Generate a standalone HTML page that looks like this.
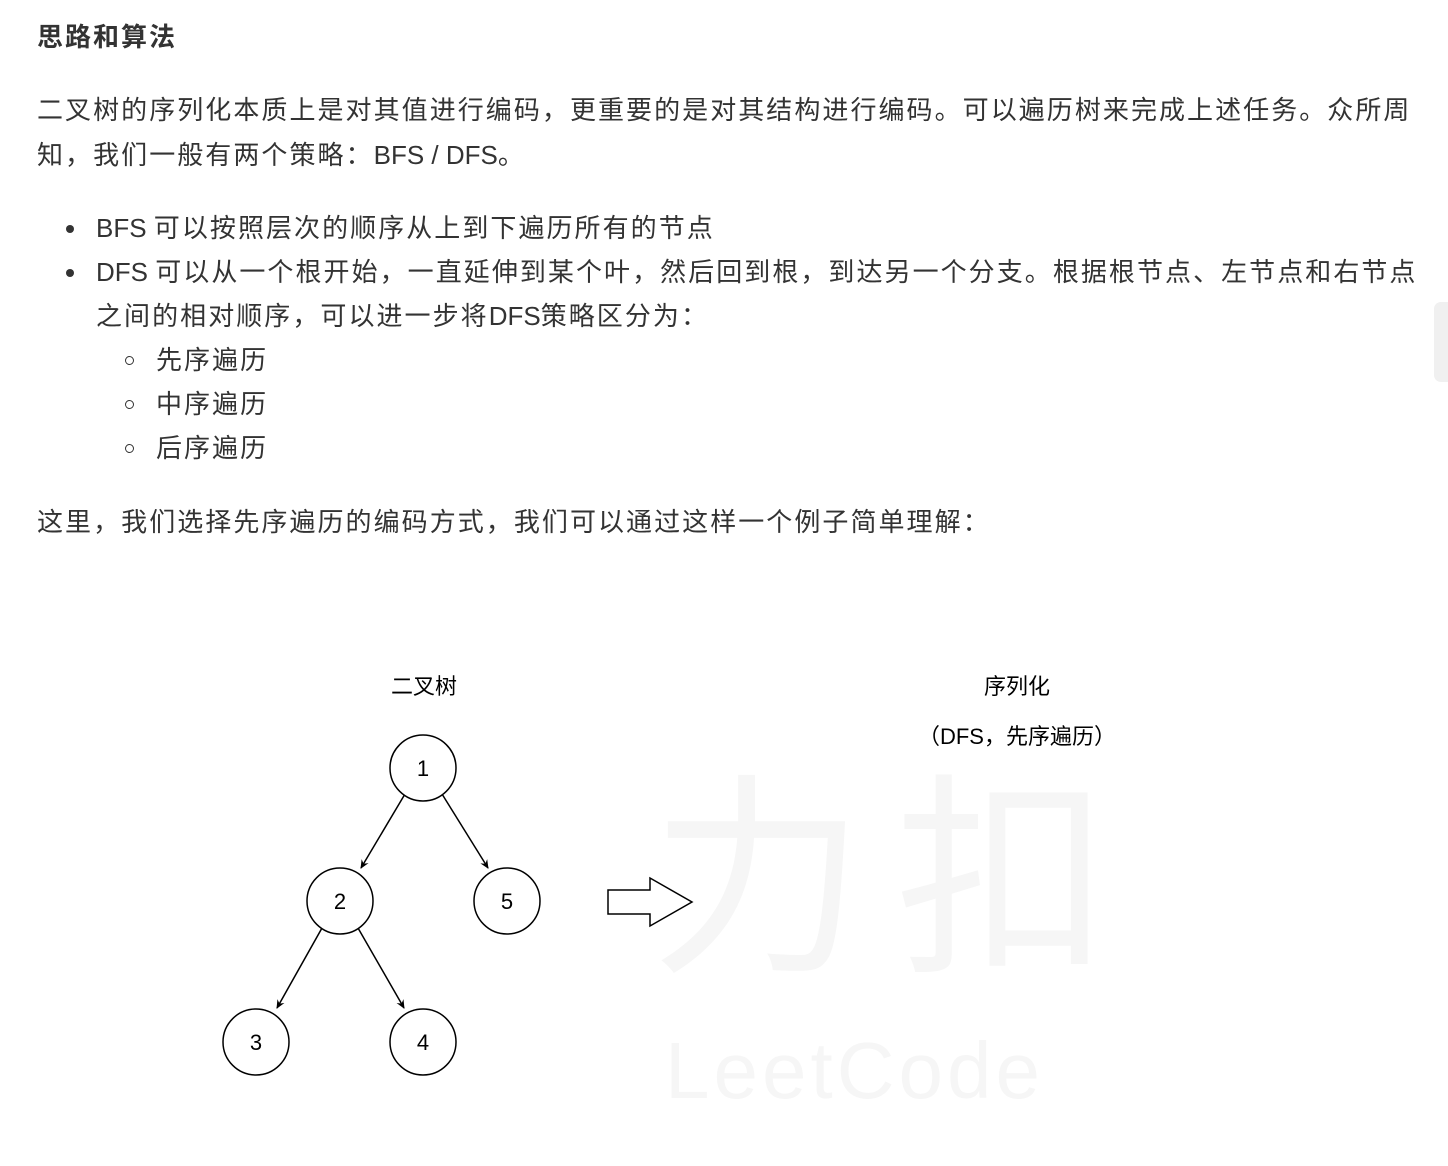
<!DOCTYPE html>
<html><head><meta charset="utf-8"><style>
body{margin:0;width:1448px;height:1166px;background:#fff;position:relative;overflow:hidden;font-family:"Liberation Sans","Noto Sans CJK SC",sans-serif;color:#333}
.t{position:absolute;white-space:nowrap;font-size:26px;line-height:30px;letter-spacing:2.05px}
.t b{font-weight:normal;letter-spacing:0}
.dot{position:absolute;width:8px;height:8px;border-radius:50%;background:#333}
.ring{position:absolute;width:7px;height:7px;border-radius:50%;border:1.6px solid #333}
</style></head><body>
<div class="t" style="left:37px;top:22px;font-weight:bold;letter-spacing:2px">思路和算法</div>
<div class="t" style="left:37px;top:95px">二叉树的序列化本质上是对其值进行编码，更重要的是对其结构进行编码。可以遍历树来完成上述任务。众所周</div>
<div class="t" style="left:37px;top:140px">知，我们一般有两个策略：<b>BFS / DFS</b>。</div>
<div class="dot" style="left:66px;top:225px"></div>
<div class="t" style="left:96px;top:213px"><b>BFS </b>可以按照层次的顺序从上到下遍历所有的节点</div>
<div class="dot" style="left:66px;top:269px"></div>
<div class="t" style="left:96px;top:257px"><b>DFS </b>可以从一个根开始，一直延伸到某个叶，然后回到根，到达另一个分支。根据根节点、左节点和右节点</div>
<div class="t" style="left:96px;top:301px">之间的相对顺序，可以进一步将<b>DFS</b>策略区分为：</div>
<div class="ring" style="left:125px;top:356px"></div>
<div class="t" style="left:156px;top:345px">先序遍历</div>
<div class="ring" style="left:125px;top:400px"></div>
<div class="t" style="left:156px;top:389px">中序遍历</div>
<div class="ring" style="left:125px;top:444px"></div>
<div class="t" style="left:156px;top:433px">后序遍历</div>
<div class="t" style="left:37px;top:507px">这里，我们选择先序遍历的编码方式，我们可以通过这样一个例子简单理解：</div>
<div style="position:absolute;right:0;top:302px;width:14px;height:80px;background:#f0f0f0;border-radius:7px 0 0 7px"></div>
<svg style="position:absolute;left:0;top:0" width="1448" height="1166">
<text x="650" y="955" font-size="215" fill="#f6f6f6" font-family="Noto Sans CJK SC" letter-spacing="30">力扣</text>
<text x="665" y="1098" font-size="80" fill="#f6f6f6" font-family="Liberation Sans" letter-spacing="4">LeetCode</text>
<g font-family="Liberation Sans, Noto Sans CJK SC, sans-serif" font-size="22" fill="#000" text-anchor="middle">
<text x="424" y="694">二叉树</text>
<text x="1017" y="694">序列化</text>
<text x="1017" y="744">（DFS，先序遍历）</text>
</g>
<defs><marker id="a" markerWidth="10" markerHeight="10" refX="8" refY="5" orient="auto" markerUnits="userSpaceOnUse"><path d="M0,1 L9,5 L0,9 L3,5z" fill="#000"/></marker></defs>
<g stroke="#000" stroke-width="1.5" fill="none">
<line x1="405" y1="794" x2="361" y2="868" marker-end="url(#a)"/>
<line x1="442" y1="794" x2="488" y2="868" marker-end="url(#a)"/>
<line x1="322" y1="928" x2="277" y2="1008" marker-end="url(#a)"/>
<line x1="358" y1="928" x2="404" y2="1008" marker-end="url(#a)"/>
<circle cx="423" cy="768" r="33" fill="#fff"/>
<circle cx="340" cy="901" r="33" fill="#fff"/>
<circle cx="507" cy="901" r="33" fill="#fff"/>
<circle cx="256" cy="1042" r="33" fill="#fff"/>
<circle cx="423" cy="1042" r="33" fill="#fff"/>
<path d="M608,890 H650 V878 L692,902 L650,926 V914 H608 Z" fill="#fff"/>
</g>
<g font-family="Liberation Sans" font-size="22" text-anchor="middle" fill="#000">
<text x="423" y="776">1</text><text x="340" y="909">2</text><text x="507" y="909">5</text>
<text x="256" y="1050">3</text><text x="423" y="1050">4</text>
</g>
</svg>
</body></html>
